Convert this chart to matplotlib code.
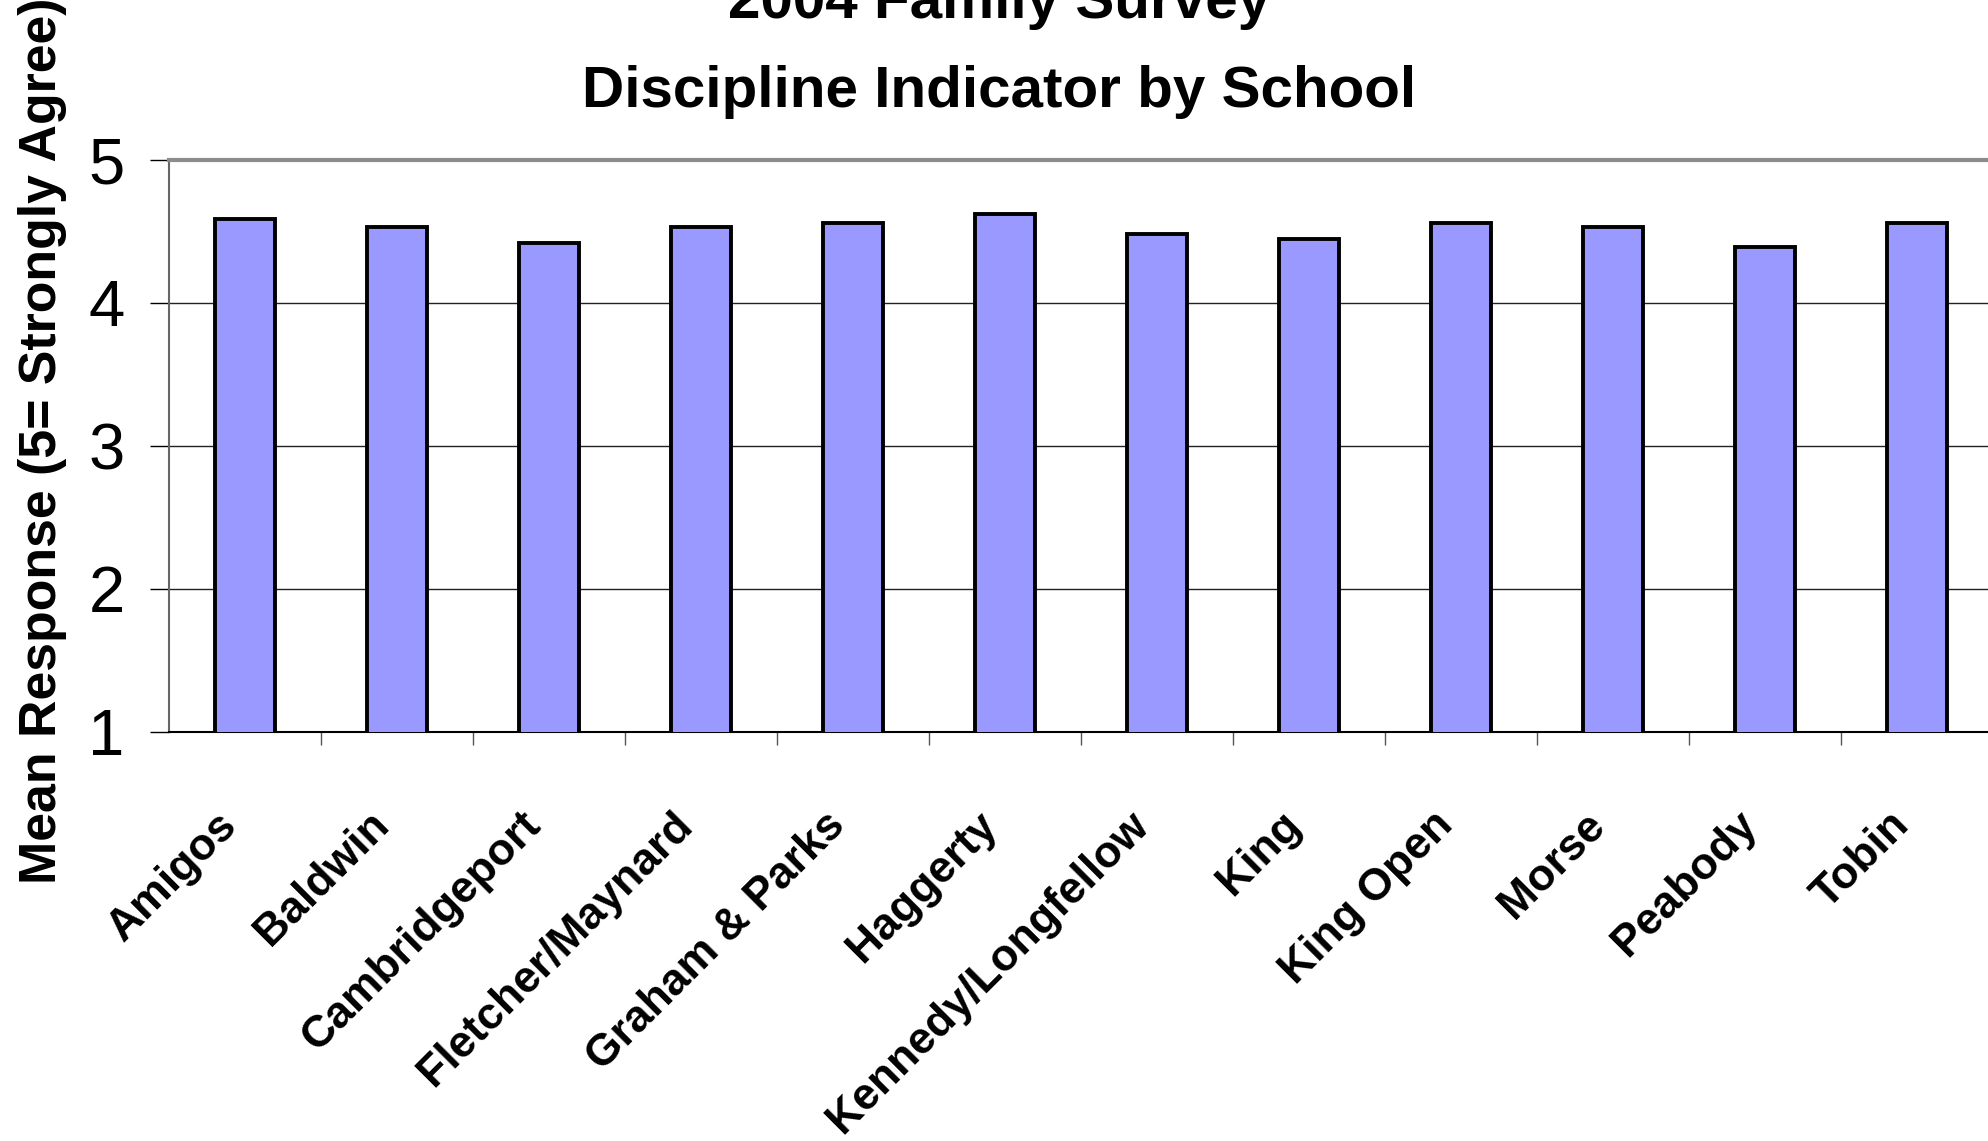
import matplotlib
matplotlib.use("Agg")
import matplotlib.pyplot as plt
from matplotlib import font_manager

# Discipline indicator, mean response per school
schools = ['Amigos', 'Baldwin', 'Cambridgeport', 'Fletcher/Maynard',
           'Graham & Parks', 'Haggerty', 'Kennedy/Longfellow', 'King',
           'King Open', 'Morse', 'Peabody', 'Tobin']
means = [4.59, 4.53, 4.42, 4.53, 4.56, 4.62, 4.48, 4.45, 4.56, 4.53, 4.39, 4.56]
yticks = [1, 2, 3, 4, 5]

# condensed font for the title and axis label if it is there
names = {f.name for f in font_manager.fontManager.ttflist}
if 'Liberation Sans Narrow' in names:
    narrow = ['Liberation Sans Narrow', 'DejaVu Sans']
    squeeze = 1.0
else:
    narrow = ['Liberation Sans', 'DejaVu Sans']
    squeeze = 0.84
plt.rcParams['font.family'] = ['Liberation Sans', 'DejaVu Sans']

fig = plt.figure(figsize=(19.88, 11.41), dpi=100)
ax = fig.add_axes([0.0850, 0.3585, 0.9175, 0.5013])

x = list(range(len(schools)))
ax.bar(x, means, width=0.4, bottom=0, color='#9999FF', edgecolor='black',
       linewidth=2.8, zorder=3)

ax.set_xlim(-0.5, len(schools) - 0.5)
ax.set_ylim(1, 5)
ax.set_yticks(yticks)
ax.set_yticklabels([str(t) for t in yticks], fontsize=47)
ax.yaxis.grid(True, color='#222222', linewidth=1.0, zorder=0)

ax.set_xticks(x)
ax.set_xticklabels(schools, rotation=45, ha='right', fontsize=32,
                   fontweight='bold')
ax.set_xticks([i - 0.5 for i in range(1, len(schools) + 1)], minor=True)
ax.tick_params(axis='x', which='major', length=0, pad=52)
ax.tick_params(axis='x', which='minor', length=9, width=1, color='#555555',
               direction='out')
ax.tick_params(axis='y', length=14, width=1, pad=18, direction='out')

ax.spines['top'].set_color('#8c8c8c')
ax.spines['top'].set_linewidth(3)
ax.spines['right'].set_visible(False)
ax.spines['left'].set_color('#666666')
ax.spines['left'].set_linewidth(1.5)
ax.spines['bottom'].set_color('black')
ax.spines['bottom'].set_linewidth(1.5)

fig.text(0.5025, 0.9842, '2004 Family Survey', ha='center', va='baseline',
         fontsize=50 * squeeze, fontweight='bold', family=narrow)
fig.text(0.5025, 0.9062, 'Discipline Indicator by School', ha='center',
         va='baseline', fontsize=50 * squeeze, fontweight='bold', family=narrow)
fig.text(0.0216, 0.614, 'Mean Response (5= Strongly Agree)', rotation=90,
         ha='center', va='center', fontsize=44.5 * squeeze,
         fontweight='bold', family=narrow)

fig.savefig('out.png', dpi=100)
